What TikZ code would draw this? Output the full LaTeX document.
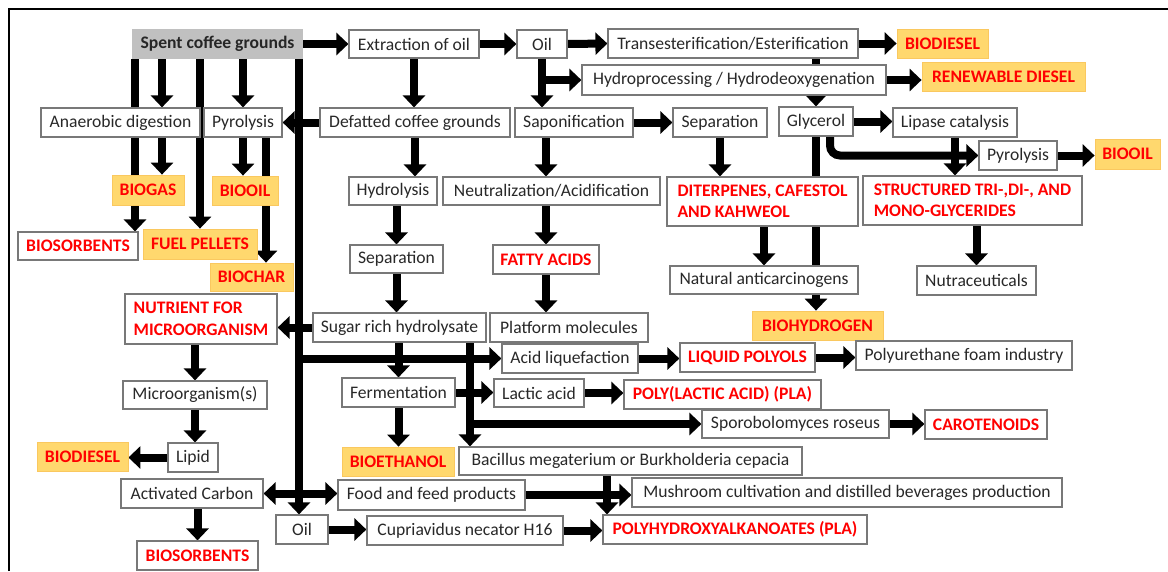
\documentclass[tikz,border=0pt]{standalone}
\usepackage{fontspec}
\setmainfont{Carlito}
\usetikzlibrary{arrows.meta,backgrounds}
\definecolor{boxline}{RGB}{120,120,120}
\definecolor{boxtext}{RGB}{40,40,40}
\definecolor{prodred}{RGB}{255,0,0}
\definecolor{prodfill}{RGB}{255,216,110}
\definecolor{prodedge}{RGB}{250,200,95}
\definecolor{feedfill}{RGB}{192,192,192}
\newcommand{\boxfont}{\fontsize{17.6}{21.5}\selectfont}
\tikzstyle{every node}=[inner sep=0pt, font=\boxfont]
\tikzstyle{box}=[draw=boxline, line width=1.2pt, fill=white, text=boxtext]
\tikzstyle{redbox}=[box, text=prodred, font=\boxfont\bfseries]
\tikzstyle{product}=[draw=prodedge, line width=0.8pt, fill=prodfill, text=prodred, font=\boxfont\bfseries]
\tikzstyle{feed}=[fill=feedfill, text=black!85, font=\boxfont\bfseries]
\tikzstyle{flow}=[line width=8pt, -{Triangle[width=22pt,length=12pt]}]
\tikzstyle{twoway}=[line width=8pt, {Triangle[width=22pt,length=12pt]}-{Triangle[width=22pt,length=12pt]}]

\begin{document}
\begin{tikzpicture}[x=1pt, y=-1pt]
\useasboundingbox (0,0) rectangle (1168,571);
% Frame
    \draw[line width=2pt] (9,571) -- (9,9) -- (1168,9);
% Oil route
    \node[feed, minimum width=171pt, minimum height=30pt] (scg) at (217.5,44) {Spent coffee grounds};
    \node[box, minimum width=130pt, minimum height=28pt] (extract) at (414,44) {Extraction of oil};
    \node[box, minimum width=50pt, minimum height=28pt] (oil) at (542,44) {Oil};
    \node[box, minimum width=250pt, minimum height=29pt] (transest) at (733,43.5) {Transesterification/Esterification};
    \node[product, minimum width=91pt, minimum height=29pt] (biodieselA) at (942.5,43.5) {BIODIESEL};
    \node[box, minimum width=304pt, minimum height=30pt] (hydro) at (734,80) {Hydroprocessing / Hydrodeoxygenation};
    \node[product, minimum width=163pt, minimum height=29pt] (rdiesel) at (1003.5,76.5) {RENEWABLE DIESEL};
    \node[box, minimum width=118pt, minimum height=29pt] (sapon) at (574,122.5) {Saponification};
    \node[box, minimum width=94pt, minimum height=29pt] (sepA) at (720,122.5) {Separation};
    \node[box, minimum width=74pt, minimum height=29pt] (glycerol) at (816,121.5) {Glycerol};
    \node[box, minimum width=124pt, minimum height=29pt] (lipase) at (955,122.5) {Lipase catalysis};
    \node[box, minimum width=78pt, minimum height=29pt] (pyroB) at (1018,155.5) {Pyrolysis};
    \node[product, minimum width=65pt, minimum height=30pt] (biooilB) at (1127.5,154) {BIOOIL};
    \node[box, minimum width=217pt, minimum height=28pt] (neutral) at (551.5,191) {Neutralization/Acidification};
    \node[redbox, minimum width=191pt, minimum height=49pt, align=left] (diterp) at (762.5,201.5) {DITERPENES, CAFESTOL\\AND KAHWEOL};
    \node[redbox, minimum width=219pt, minimum height=49pt, align=left] (struct) at (972.5,200.5) {STRUCTURED TRI-,DI-, AND\\MONO-GLYCERIDES};
    \node[redbox, minimum width=106pt, minimum height=29pt] (fatty) at (546,259.5) {FATTY ACIDS};
    \node[box, minimum width=188pt, minimum height=28pt] (anticarc) at (764,280) {Natural anticarcinogens};
    \node[box, minimum width=119pt, minimum height=29pt] (nutra) at (976.5,280.5) {Nutraceuticals};
    \node[box, minimum width=158pt, minimum height=29pt] (platform) at (569,327.5) {Platform molecules};
    \node[product, minimum width=131pt, minimum height=29pt] (biohydro) at (817.5,325.5) {BIOHYDROGEN};
% Thermochemical and digestion routes
    \node[box, minimum width=159pt, minimum height=29pt] (anaerobic) at (120.5,122.5) {Anaerobic digestion};
    \node[box, minimum width=78pt, minimum height=29pt] (pyroA) at (243,122.5) {Pyrolysis};
    \node[product, minimum width=72pt, minimum height=30pt] (biogas) at (148,190) {BIOGAS};
    \node[product, minimum width=66pt, minimum height=29pt] (biooilA) at (245,190.5) {BIOOIL};
    \node[redbox, minimum width=120pt, minimum height=28pt] (biosorbA) at (78,246) {BIOSORBENTS};
    \node[product, minimum width=114pt, minimum height=30pt] (pellets) at (200,244) {FUEL PELLETS};
    \node[product, minimum width=83pt, minimum height=28pt] (biochar) at (251.5,277) {BIOCHAR};
% Defatted grounds route
    \node[box, minimum width=190pt, minimum height=29pt] (defatted) at (415,122.5) {Defatted coffee grounds};
    \node[box, minimum width=88pt, minimum height=28pt] (hydrolysis) at (393,191) {Hydrolysis};
    \node[box, minimum width=93pt, minimum height=28pt] (sepB) at (396.5,259) {Separation};
    \node[box, minimum width=173pt, minimum height=29pt] (sugar) at (399.5,327.5) {Sugar rich hydrolysate};
    \node[redbox, minimum width=152pt, minimum height=50pt, align=left] (nutrient) at (201,319) {NUTRIENT FOR\\MICROORGANISM};
    \node[box, minimum width=136pt, minimum height=29pt] (acidliq) at (570,358.5) {Acid liquefaction};
    \node[redbox, minimum width=135pt, minimum height=29pt] (polyols) at (747.5,357.5) {LIQUID POLYOLS};
    \node[box, minimum width=216pt, minimum height=29pt] (polyureth) at (964,355.5) {Polyurethane foam industry};
    \node[box, minimum width=144pt, minimum height=28pt] (microorg) at (195,395) {Microorganism(s)};
    \node[box, minimum width=113pt, minimum height=29pt] (ferment) at (398.5,392.5) {Fermentation};
    \node[box, minimum width=90pt, minimum height=28pt] (lactic) at (539,393) {Lactic acid};
    \node[redbox, minimum width=197pt, minimum height=29pt] (pla) at (722.5,394.5) {POLY(LACTIC ACID) (PLA)};
    \node[box, minimum width=187pt, minimum height=28pt] (sporob) at (795.5,424) {Sporobolomyces roseus};
    \node[redbox, minimum width=122pt, minimum height=29pt] (carot) at (986,424.5) {CAROTENOIDS};
    \node[product, minimum width=91pt, minimum height=29pt] (biodieselB) at (82.5,456.5) {BIODIESEL};
    \node[box, minimum width=50pt, minimum height=29pt] (lipid) at (193,457.5) {Lipid};
    \node[product, minimum width=112pt, minimum height=29pt] (bioethanol) at (398,461.5) {BIOETHANOL};
    \node[box, minimum width=343pt, minimum height=28pt] (bacillus) at (630.5,461) {Bacillus megaterium or Burkholderia cepacia};
    \node[box, minimum width=142pt, minimum height=29pt] (actcarbon) at (192,493.5) {Activated Carbon};
    \node[box, minimum width=187pt, minimum height=30pt] (food) at (431.5,495) {Food and feed products};
    \node[box, minimum width=430pt, minimum height=29pt] (mushroom) at (847,492.5) {Mushroom cultivation and distilled beverages production};
    \node[redbox, minimum width=121pt, minimum height=29pt] (biosorbB) at (197.5,555.5) {BIOSORBENTS};
    \node[box, minimum width=52pt, minimum height=29pt] (oilB) at (302,529.5) {Oil};
    \node[box, minimum width=196pt, minimum height=29pt] (cupriav) at (465,530.5) {Cupriavidus necator H16};
    \node[redbox, minimum width=264pt, minimum height=29pt] (pha) at (735,529.5) {POLYHYDROXYALKANOATES (PLA)};
    \coordinate (trunk) at (299,0);
    \coordinate (branch) at (470,0);
\begin{scope}[on background layer]
% Arrows, oil route
    \draw[flow] (scg.east) -- (extract.west);
    \draw[flow] (extract.east) -- (oil.west);
    \draw[flow] (oil.east) -- (transest.west);
    \draw[flow] (transest.east) -- (biodieselA.west);
    \draw[flow] (hydro.east) -- (hydro.east -| rdiesel.west);
    \draw[flow] (oil.south) -- (oil.south |- sapon.north);
    \draw[flow] (oil.south |- hydro.west) -- (hydro.west);
    \draw[flow] (glycerol.north |- transest.south) -- (glycerol.north);
    \draw[flow] (sapon.east) -- (sepA.west);
    \draw[flow] (glycerol.east) -- (glycerol.east -| lipase.west);
    \draw[flow, rounded corners=10pt] ([xshift=14pt]glycerol.south) |- (pyroB.west);
    \draw[flow] (lipase.south) -- (lipase.south |- struct.north);
    \draw[flow] (glycerol.south) -- (glycerol.south |- biohydro.north);
    \draw[flow] (pyroB.east) -- (pyroB.east -| biooilB.west);
    \draw[flow] (sapon.south -| fatty) -- (neutral.north -| fatty);
    \draw[flow] (neutral.south -| fatty) -- (fatty.north);
    \draw[flow] (fatty.south) -- (fatty.south |- platform.north);
    \draw[flow] (sepA.south) -- (sepA.south |- diterp.north);
    \draw[flow] (anticarc.north |- diterp.south) -- (anticarc.north);
    \draw[flow] (nutra.north |- struct.south) -- (nutra.north);
% Arrows, left side
    \draw[flow] (scg.south -| 135,0) -- (biosorbA.north -| 135,0);
    \draw[flow] (scg.south -| 162,0) -- (anaerobic.north -| 162,0);
    \draw[flow] (anaerobic.south -| 162,0) -- (biogas.north -| 162,0);
    \draw[flow] (scg.south -| pellets) -- (pellets.north);
    \draw[flow] (scg.south -| pyroA) -- (pyroA.north);
    \draw[flow] (pyroA.south) -- (pyroA.south |- biooilA.north);
    \draw[flow] (pyroA.south -| 266,0) -- (biochar.north -| 266,0);
    \draw[flow] (scg.south -| trunk) -- (oilB.north -| trunk);
    \draw[flow] (defatted.west) -- (pyroA.east);
    \draw[flow] (sugar.west) -- (sugar.west -| nutrient.east);
    \draw[flow] (acidliq.west -| trunk) -- (acidliq.west);
    \draw[twoway] (actcarbon.east) -- (actcarbon.east -| food.west);
    \draw[flow] (nutrient.south -| microorg) -- (microorg.north);
    \draw[flow] (microorg.south) -- (microorg.south |- lipid.north);
    \draw[flow] (lipid.west) -- (lipid.west -| biodieselB.east);
    \draw[flow] (actcarbon.south -| biosorbB) -- (biosorbB.north);
% Arrows, sugars
    \draw[flow] (extract.south) -- (extract.south |- defatted.north);
    \draw[flow] (defatted.south) -- (defatted.south |- hydrolysis.north);
    \draw[flow] (hydrolysis.south -| sepB) -- (sepB.north);
    \draw[flow] (sepB.south) -- (sepB.south |- sugar.north);
    \draw[flow] (sugar.south -| ferment) -- (ferment.north);
    \draw[flow] (ferment.south) -- (ferment.south |- bioethanol.north);
    \draw[flow] (ferment.east) -- (ferment.east -| lactic.west);
    \draw[flow] (sugar.south -| branch) -- (bacillus.north -| branch);
    \draw[flow] (sporob.west -| branch) -- (sporob.west);
    \draw[flow] (acidliq.east) -- (acidliq.east -| polyols.west);
    \draw[flow] (polyols.east) -- (polyols.east -| polyureth.west);
    \draw[flow] (lactic.east) -- (lactic.east -| pla.west);
    \draw[flow] (sporob.east) -- (sporob.east -| carot.west);
    \draw[flow] (oilB.east) -- (oilB.east -| cupriav.west);
    \draw[flow] (cupriav.east) -- (cupriav.east -| pha.west);
    \draw[flow] (food.east) -- (food.east -| mushroom.west);
    \draw[flow] (bacillus.south -| 607,0) -- (pha.north -| 607,0);
\end{scope}
\end{tikzpicture}
\end{document}
